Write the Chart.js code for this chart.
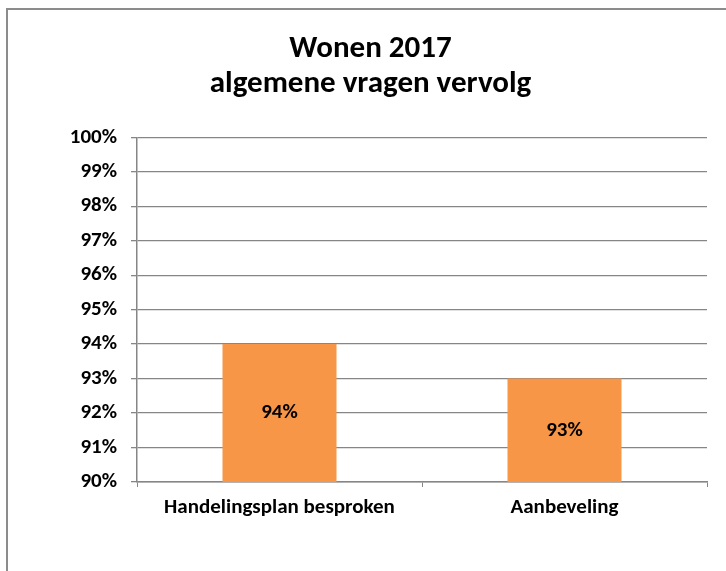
<!DOCTYPE html>
<html>
<head>
<meta charset="utf-8">
<script src="https://cdn.jsdelivr.net/npm/chart.js@4/dist/chart.umd.min.js"></script>
<style>
  html, body { margin: 0; padding: 0; background: #fff; overflow: hidden; }
  #wrap { position: relative; width: 726px; height: 571px; }
  #frame { position: absolute; left: 6px; top: 8px; width: 900px; height: 900px;
           border-left: 2px solid #8c8c8c; border-top: 2px solid #8c8c8c; }
  canvas { position: absolute; left: 0; top: 0; }
</style>
</head>
<body>
<div id="wrap">
  <div id="frame"></div>
  <canvas id="chart" width="726" height="571"></canvas>
</div>
<script>
const FONT = "Carlito, Lato, 'Liberation Sans', Arial, sans-serif";
const titleLines = ['Wonen 2017', 'algemene vragen vervolg'];
const categories = ['Handelingsplan besproken', 'Aanbeveling'];
const values = [94, 93];
const yMin = 90, yMax = 100, yStep = 1;

// value labels in the middle of the visible part of each bar
const barLabels = {
  id: 'barLabels',
  afterDatasetsDraw(chart) {
    const ctx = chart.ctx;
    const bottom = chart.scales.y.getPixelForValue(yMin);
    ctx.save();
    ctx.font = 'bold 21px ' + FONT;
    ctx.fillStyle = '#000000';
    ctx.textAlign = 'center';
    ctx.textBaseline = 'middle';
    chart.getDatasetMeta(0).data.forEach((bar, i) => {
      ctx.fillText(values[i] + '%', bar.x, (bar.y + bottom) / 2);
    });
    ctx.restore();
  }
};

new Chart(document.getElementById('chart'), {
  type: 'bar',
  data: {
    labels: categories,
    datasets: [{
      data: values,
      backgroundColor: '#F79646',
      borderWidth: 0,
      barPercentage: 0.4,
      categoryPercentage: 1,
    }]
  },
  options: {
    responsive: false,
    animation: false,
    layout: { padding: { left: 34, right: 19, top: 0, bottom: 0 } },
    plugins: {
      legend: { display: false },
      tooltip: { enabled: false },
      title: {
        display: true,
        text: titleLines,
        color: '#000',
        font: { family: FONT, size: 31, weight: 'bold', lineHeight: 1.15 },
        padding: { top: 31, bottom: 35 }
      }
    },
    scales: {
      x: {
        afterFit: s => { s.height = 89; },
        grid: { drawOnChartArea: false, drawTicks: true, tickLength: 5, color: '#868686', offset: true },
        border: { color: '#868686', width: 1.5 },
        ticks: { color: '#000', padding: 8, font: { family: FONT, size: 21, weight: 'bold' } }
      },
      y: {
        min: yMin, max: yMax,
        afterFit: s => { s.width = 103; },
        grid: { color: '#868686', lineWidth: 1.3, tickLength: 6 },
        border: { color: '#868686', width: 1.5 },
        ticks: {
          stepSize: yStep, color: '#000', padding: 14,
          font: { family: FONT, size: 21, weight: 'bold' },
          callback: v => v + '%'
        }
      }
    }
  },
  plugins: [barLabels]
});
</script>
</body>
</html>
